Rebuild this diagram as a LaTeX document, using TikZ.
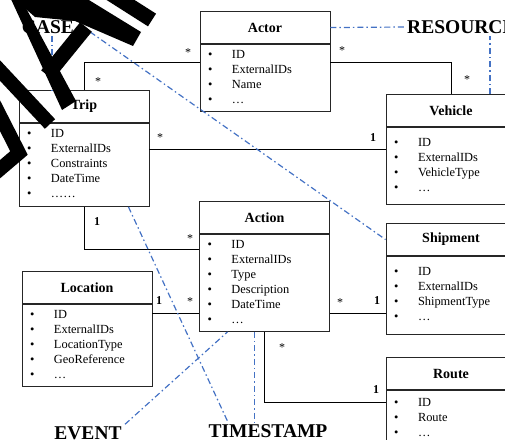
\documentclass[tikz,border=0pt]{standalone}
\usepackage{fontspec}
\setmainfont{Liberation Serif}
\usetikzlibrary{positioning}
\definecolor{evblue}{RGB}{68,114,196}
\newcommand{\itm}[1]{\makebox[24pt][l]{\textbullet}#1\strut}

\begin{document}
\begin{tikzpicture}[x=1pt, y=-1pt,
  clshead/.style={draw=black!85, line width=0.9pt, minimum width=130pt,
    minimum height=32pt, inner sep=0pt, anchor=south,
    font=\fontsize{14}{16}\selectfont\bfseries},
  clsbody/.style={draw=black!85, line width=0.9pt, text width=114pt,
    inner xsep=8pt, inner ysep=0pt, align=left,
    font=\fontsize{12.4}{15}\selectfont},
  mult/.style={font=\fontsize{12}{14}\selectfont, inner sep=1pt},
  evline/.style={evblue, line width=1.2pt,
    dash pattern=on 6pt off 3pt on 1.5pt off 3pt},
  tagtext/.style={font=\fontsize{19.5}{22}\selectfont\bfseries, inner sep=2pt},
  blot/.style={line width=17pt, line cap=butt, line join=miter}]

  \useasboundingbox (0,0) rectangle (505,439);

  % --- 1. classes ---
  \node[clshead] (actorH) at (265,44) {Actor};
  \node[clsbody, minimum height=67pt, below=0pt of actorH] (actorB)
    {\itm{ID}\\\itm{ExternalIDs}\\\itm{Name}\\\itm{\ldots}};

  \node[clshead] (tripH) at (84,123) {Trip};
  \node[clsbody, minimum height=83pt, below=0pt of tripH] (tripB)
    {\itm{ID}\\\itm{ExternalIDs}\\\itm{Constraints}\\\itm{DateTime}\\\itm{\ldots\ldots}};

  \node[clshead] (vehH) at (451,127) {Vehicle};
  \node[clsbody, minimum height=77pt, below=0pt of vehH] (vehB)
    {\itm{ID}\\\itm{ExternalIDs}\\\itm{VehicleType}\\\itm{\ldots}};

  \node[clshead] (actH) at (264.5,234) {Action};
  \node[clsbody, minimum height=97pt, below=0pt of actH] (actB)
    {\itm{ID}\\\itm{ExternalIDs}\\\itm{Type}\\\itm{Description}\\\itm{DateTime}\\\itm{\ldots}};

  \node[clshead] (locH) at (87,304) {Location};
  \node[clsbody, minimum height=82pt, below=0pt of locH] (locB)
    {\itm{ID}\\\itm{ExternalIDs}\\\itm{LocationType}\\\itm{GeoReference}\\\itm{\ldots}};

  \node[clshead] (shipH) at (451,256) {Shipment};
  \node[clsbody, minimum height=78pt, below=0pt of shipH] (shipB)
    {\itm{ID}\\\itm{ExternalIDs}\\\itm{ShipmentType}\\\itm{\ldots}};

  \node[clshead] (routeH) at (451,390) {Route};
  \node[clsbody, minimum height=56pt, below=0pt of routeH] (routeB)
    {\itm{ID}\\\itm{Route}\\\itm{\ldots}};

  % --- 2. associations ---
  \coordinate (ta) at ([yshift=16pt]actorB.west);
  \coordinate (av) at ([yshift=16pt]actorB.east);
  \coordinate (tv) at ([yshift=16pt]tripB.east);
  \coordinate (tc) at ([yshift=34pt]actB.west);
  \coordinate (la) at ([yshift=-30pt]actB.west);
  \draw[line width=0.8pt] (tripH.north) |- (ta);
  \draw[line width=0.8pt] (av) -| (vehH.north);
  \draw[line width=0.8pt] (tv) -- (tv -| vehB.west);
  \draw[line width=0.8pt] (tripB.south) |- (tc);
  \draw[line width=0.8pt] (la -| locB.east) -- (la);
  \draw[line width=0.8pt] (la -| actB.east) -- (la -| shipB.west);
  \draw[line width=0.8pt] (actB.south) |- ([yshift=-12pt]routeH.south west);

  % multiplicities
  \node[mult] (m1) at (98,82) {*};
  \node[mult] (m2) at (188,53) {*};
  \node[mult] (m3) at (342,51) {*};
  \node[mult] (m4) at (467,80) {*};
  \node[mult] (m5) at (160,138) {*};
  \node[mult] (m6) at (373,138) {\textbf{1}};
  \node[mult] (m7) at (97,222) {\textbf{1}};
  \node[mult] (m8) at (190,239) {*};
  \node[mult] (m9) at (159,301) {\textbf{1}};
  \node[mult] (m10) at (190,302) {*};
  \node[mult] (m11) at (340,303) {*};
  \node[mult] (m12) at (377,301) {\textbf{1}};
  \node[mult] (m13) at (282,348) {*};
  \node[mult] (m14) at (376,390) {\textbf{1}};

  % --- 3. labels and their links ---
  \node[tagtext] (caseT) at (48,27) {CASE};
  \node[tagtext, anchor=west] (resT) at (405,27) {RESOURCE};
  \node[tagtext] (evT) at (88,433) {EVENT};
  \node[tagtext] (tsT) at (268,431) {TIMESTAMP};

  \draw[evline] ([xshift=14pt,yshift=-5pt]caseT.east) -- (shipH.west);
  \draw[evline] ([xshift=4pt]caseT.south) -- ([xshift=-32pt]tripH.north);
  \draw[evline] (actorH.east) -- (resT.west);
  \draw[evline] ([xshift=39pt]vehH.north) -- ([xshift=39pt]vehH.north |- resT.south);
  \draw[evline] ([xshift=-21pt]tripB.south east) -- ([xshift=-40pt]tsT.north);
  \draw[evline] ([xshift=-10pt]actB.south) -- ([xshift=-10pt]actB.south |- tsT.north);
  \draw[evline] ([xshift=37pt]evT.north) -- ([xshift=-37pt]actB.south);

  % --- 4. black strokes on top ---
  \fill (10,-3) -- (20,-3) -- (76,101) -- (62,110) -- cycle;
  \fill (12,-3) -- (84,-3) -- (141,32) -- (133,46) -- (75,21) -- (35,17) -- cycle;
  \draw[blot, line width=15pt] (47,75) -- (86,27);
  \draw[blot, line width=15pt] (108,-8) -- (152,20);
  \draw[blot, line width=14pt] (-8,62) -- (50,124);
  \draw[blot, line width=14pt] (-8,100) -- (19,153) -- (-8,176);

\end{tikzpicture}
\end{document}
